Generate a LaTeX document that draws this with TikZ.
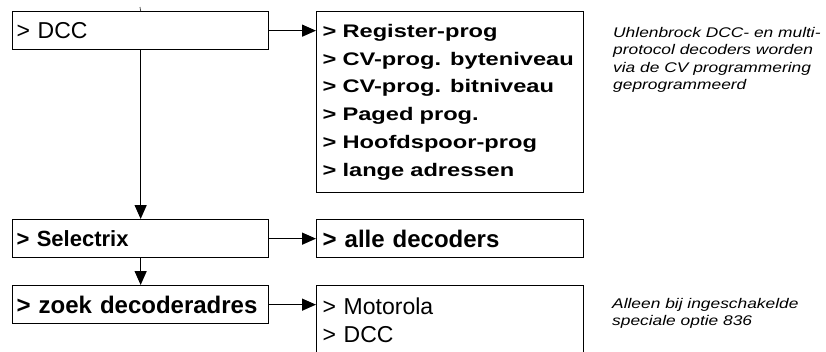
\documentclass[tikz,border=0pt]{standalone}
\usepackage{fontspec}
\setmainfont{Liberation Sans}
\newfontfamily\pixfont[FakeStretch=1.3]{Liberation Sans}
\newfontfamily\notefont[FakeStretch=1.24]{Liberation Sans}
\usetikzlibrary{arrows.meta}
\begin{document}
\begin{tikzpicture}[x=1pt,y=-1pt,
  box/.style={draw=black, line width=1.3pt, rectangle, inner ysep=0pt, align=left, anchor=north west},
  lbox/.style={box, minimum width=256pt, minimum height=38pt, text width=248pt, inner xsep=4pt},
  rbox/.style={box, minimum width=267pt, text width=255pt, inner xsep=6pt},
  conn/.style={line width=1.3pt, -{Triangle[length=14pt,width=12pt]}},
  note/.style={anchor=north west, align=left, inner sep=0pt, font=\notefont\itshape\fontsize{14}{17.5}\selectfont}]
\fill[white] (0,0) rectangle (826,351);
\useasboundingbox (0,0) rectangle (826,351);
% left column
\node[lbox, font=\fontsize{23}{27}\selectfont] (dcc) at (12,11) {> DCC};
\node[lbox, font=\bfseries\fontsize{22}{26}\selectfont] (sel) at (12,219) {> Selectrix};
\node[lbox, font=\bfseries\fontsize{24}{28}\selectfont] (zoek) at (12,285) {> zoek decoderadres};
% right column
\node[rbox, minimum height=181pt, font=\pixfont\bfseries\fontsize{18.2}{27.7}\selectfont] (reg) at (316,11)
  {> Register-prog\\> CV-prog. byteniveau\\> CV-prog. bitniveau\\> Paged prog.\\> Hoofdspoor-prog\\> lange adressen};
\node[rbox, minimum height=38pt, font=\bfseries\fontsize{24}{28}\selectfont] (alle) at (316,219) {> alle decoders};
\node[rbox, minimum height=70pt, font=\fontsize{23}{28}\selectfont] (mot) at (316,285) {> Motorola\\> DCC};
% connectors
\coordinate (tick) at (140,7);
\draw[line width=0.8pt, black!70] (tick) -- (dcc.north);
\draw[conn] (dcc.east) -- (dcc.east -| reg.west);
\draw[conn] (sel.east) -- (alle.west);
\draw[conn] (zoek.east) -- (zoek.east -| mot.west);
\draw[conn] (dcc.south) -- (sel.north);
\draw[conn] (sel.south) -- (zoek.north);
% notes
\node[note] (n1) at (613,27) {Uhlenbrock DCC- en multi-\\protocol decoders worden\\via de CV programmering\\geprogrammeerd};
\node[note] (n2) at (612,298) {Alleen bij ingeschakelde\\speciale optie 836};
\end{tikzpicture}
\end{document}
